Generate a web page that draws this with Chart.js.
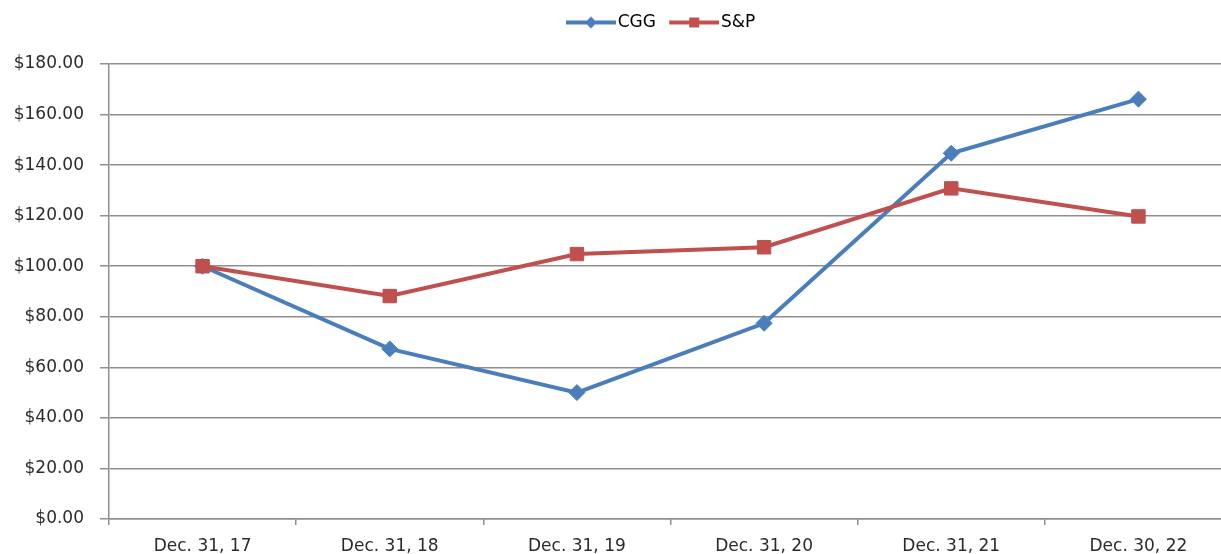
<!DOCTYPE html>
<html>
<head>
<meta charset="utf-8">
<script src="https://cdn.jsdelivr.net/npm/chart.js@4/dist/chart.umd.min.js"></script>
<style>
  html, body { margin: 0; padding: 0; background: #fff; overflow: hidden; }
  #wrap { width: 1318px; height: 554px; }
</style>
</head>
<body>
<div id="wrap"><canvas id="c" width="1318" height="554"></canvas></div>
<script>
const categories = ['Dec. 31, 17', 'Dec. 31, 18', 'Dec. 31, 19', 'Dec. 31, 20', 'Dec. 31, 21', 'Dec. 30, 22'];
const cggValues = [100, 67.3, 50.0, 77.4, 144.7, 166.1];
const spValues = [100, 88.2, 104.8, 107.5, 130.8, 119.7];
const seriesNames = ['CGG', 'S&P'];
const yMin = 0, yMax = 180, yStep = 20;

const BLUE = '#4A7EBB';
const RED = '#C0504D';
const GRID = '#8f8f8f';
const TEXT = '#2b2b2b';

function legendIcon(color, style) {
  const c = document.createElement('canvas');
  c.width = 60; c.height = 16;
  const g = c.getContext('2d');
  g.strokeStyle = color; g.lineWidth = 4;
  g.beginPath(); g.moveTo(10, 8); g.lineTo(60, 8); g.stroke();
  g.fillStyle = color;
  const cx = 35;
  if (style === 'diamond') {
    g.beginPath(); g.moveTo(cx - 6, 8); g.lineTo(cx, 2); g.lineTo(cx + 6, 8); g.lineTo(cx, 14); g.closePath(); g.fill();
  } else {
    g.fillRect(cx - 5, 3, 10, 10);
  }
  return c;
}
const icons = [legendIcon(BLUE, 'diamond'), legendIcon(RED, 'square')];

Chart.defaults.font.family = "'DejaVu Sans', sans-serif";
Chart.defaults.font.size = 17;
Chart.defaults.color = TEXT;

new Chart(document.getElementById('c'), {
  type: 'line',
  data: {
    labels: categories,
    datasets: [
      {
        label: seriesNames[0], data: cggValues,
        borderColor: BLUE, backgroundColor: BLUE, borderWidth: 4,
        pointStyle: 'rectRot', pointRadius: 8, pointBorderWidth: 1,
        pointBackgroundColor: BLUE, pointBorderColor: BLUE,
        tension: 0, order: 1
      },
      {
        label: seriesNames[1], data: spValues,
        borderColor: RED, backgroundColor: RED, borderWidth: 4,
        pointStyle: 'rect', pointRadius: 9.5, pointBorderWidth: 1,
        pointBackgroundColor: RED, pointBorderColor: RED,
        tension: 0, order: 0
      }
    ]
  },
  options: {
    responsive: false,
    animation: false,
    events: [],
    layout: { padding: { top: 4, left: 0, right: 0, bottom: 0 } },
    plugins: {
      tooltip: { enabled: false },
      legend: {
        position: 'top',
        labels: {
          usePointStyle: true,
          pointStyleWidth: 46.5,
          padding: 10,
          color: TEXT,
          font: { size: 17 },
          generateLabels: (chart) => chart.data.datasets.map((ds, i) => ({
            text: ds.label, pointStyle: icons[i], fillStyle: ds.borderColor,
            strokeStyle: ds.borderColor, lineWidth: 0, hidden: false, datasetIndex: i
          }))
        }
      }
    },
    scales: {
      x: {
        type: 'category', position: 'bottom', offset: true,
        grid: { offset: true, drawOnChartArea: false, drawTicks: true, tickLength: 6, color: GRID, lineWidth: 1.5 },
        border: { display: true, color: GRID, width: 1.5 },
        ticks: { color: TEXT, padding: 11, maxRotation: 0, autoSkip: false },
        afterFit: (s) => { s.height = 35; }
      },
      xTop: {
        type: 'category', position: 'top', display: true,
        grid: { display: false }, border: { display: false }, ticks: { display: false },
        afterFit: (s) => { s.height = 23; }
      },
      y: {
        type: 'linear', position: 'left', min: yMin, max: yMax,
        ticks: { stepSize: yStep, padding: 16, color: TEXT, callback: (v) => '$' + Number(v).toFixed(2) },
        grid: { color: GRID, lineWidth: 1.5, tickLength: 9, drawTicks: true },
        border: { display: true, color: GRID, width: 1.5 },
        afterFit: (s) => { s.width = 109; }
      },
      yR: {
        type: 'linear', position: 'right', display: true,
        grid: { display: false }, border: { display: false }, ticks: { display: false },
        afterFit: (s) => { s.width = 86; }
      }
    }
  }
});
</script>
</body>
</html>
